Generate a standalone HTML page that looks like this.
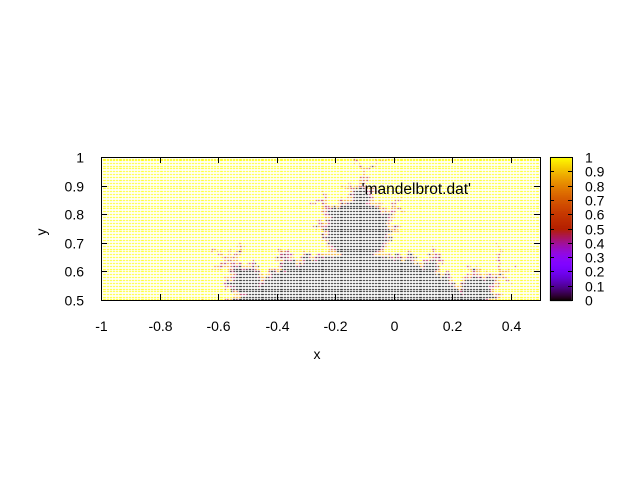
<!DOCTYPE html>
<html><head><meta charset="utf-8"><style>
body{margin:0;background:#fff;}
#wrap{position:relative;width:640px;height:480px;font-family:"Liberation Sans",sans-serif;font-size:14px;color:#000;}
canvas{position:absolute;left:0;top:0;}
</style></head><body>
<div id="wrap">
<canvas id="pts" width="640" height="480"></canvas>
<svg id="ax" width="640" height="480" style="position:absolute;left:0;top:0"></svg>
</div>
<script>
// data definitions
const xRange = [-1, 0.5];
const yRange = [0.5, 1];
const xStep = 0.005;
const yStep = 0.01;
const maxIter = 60;
const xTicks = [-1, -0.8, -0.6, -0.4, -0.2, 0, 0.2, 0.4];
const xTickLabels = ["-1","-0.8","-0.6","-0.4","-0.2","0","0.2","0.4"];
const yTicks = [0.5,0.6,0.7,0.8,0.9,1];
const yTickLabels = ["0.5","0.6","0.7","0.8","0.9","1"];
const cbTicks = [0,0.1,0.2,0.3,0.4,0.5,0.6,0.7,0.8,0.9,1];
const cbTickLabels = ["0","0.1","0.2","0.3","0.4","0.5","0.6","0.7","0.8","0.9","1"];

const L=101,R=540,T=157,B=300;
const sx=v=>L+(v-xRange[0])/(xRange[1]-xRange[0])*(R-L);
const sy=v=>B-(v-yRange[0])/(yRange[1]-yRange[0])*(B-T);
function pal(v){v=Math.max(0,Math.min(1,v));
 const r=Math.sqrt(v),g=v*v*v,b=Math.max(0,Math.sin(2*Math.PI*v));
 return `rgb(${Math.round(r*255)},${Math.round(g*255)},${Math.round(b*255)})`;}
function mand(cx,cy){let x=0,y=0,n=0;
 while(n<maxIter&&x*x+y*y<4){const t=x*x-y*y+cx;y=2*x*y+cy;x=t;n++;}
 if(n>=maxIter) return 0;
 if(n<18) return 1;
 if(n<30) return 0.85;
 return 0.45;}
const ctx=document.getElementById('pts').getContext('2d');
const nx=Math.round((xRange[1]-xRange[0])/xStep), ny=Math.round((yRange[1]-yRange[0])/yStep);
for(let i=0;i<=nx;i++)for(let j=0;j<=ny;j++){
 const cx=xRange[0]+i*xStep, cy=yRange[0]+j*yStep;
 const v=mand(cx,cy);
 ctx.fillStyle=v===0?'#000':pal(v);
 const px=Math.min(R-2,Math.max(L+2,Math.round(sx(cx))));
 const py=Math.min(B-1,Math.max(T+2,Math.round(sy(cy))));
 ctx.fillRect(px,py,1,1);}
// colorbar
const CL=550,CR=572;
for(let y=T;y<=B;y++){ctx.fillStyle=pal((B-y)/(B-T));ctx.fillRect(CL,y,CR-CL,1);}

const svg=document.getElementById('ax');const NS='http://www.w3.org/2000/svg';
function el(tag,attrs){const e=document.createElementNS(NS,tag);for(const k in attrs)e.setAttribute(k,attrs[k]);svg.appendChild(e);return e;}
const frame=el('rect',{x:L+0.5,y:T+0.5,width:R-L,height:B-T,fill:'none',stroke:'#000'});


const cbf=el('rect',{x:CL+0.5,y:T+0.5,width:CR-CL,height:B-T,fill:'none',stroke:'#000'});


function txt(s,x,y,anchor,name,fs){const t=el('text',{x:x,y:y,'text-anchor':anchor,'font-family':'Liberation Sans, sans-serif','font-size':fs||14});t.textContent=s;
 
 return t;}
xTicks.forEach((v,i)=>{const x=Math.round(sx(v))+0.5;
 const a=el('line',{x1:x,x2:x,y1:B,y2:B-6,stroke:'#000'});
 const b=el('line',{x1:x,x2:x,y1:T,y2:T+6,stroke:'#000'});
 txt(xTickLabels[i],x,331,'middle','x-tick-label');});
yTicks.forEach((v,i)=>{const y=Math.round(sy(v))+0.5;
 const a=el('line',{x1:L,x2:L+6,y1:y,y2:y,stroke:'#000'});
 const b=el('line',{x1:R-6,x2:R,y1:y,y2:y,stroke:'#000'});
 txt(yTickLabels[i],84,y+5,'end','y-tick-label');});
cbTicks.forEach((v,i)=>{const y=Math.round(B-v*(B-T))+0.5;
 const a=el('line',{x1:CL,x2:CL+4,y1:y,y2:y,stroke:'#000'});
 const b=el('line',{x1:CR-4,x2:CR,y1:y,y2:y,stroke:'#000'});
 txt(cbTickLabels[i],585,y+5,'start','colorbar-tick-label');});
txt('x',317,359,'middle','x-axis-title');
const yt=txt('y',46,232,'middle','y-axis-title');yt.setAttribute('transform','rotate(-90 46 232)');
txt("'mandelbrot.dat'",471,194,'end','legend-entry',15.5);
</script>
</body></html>
